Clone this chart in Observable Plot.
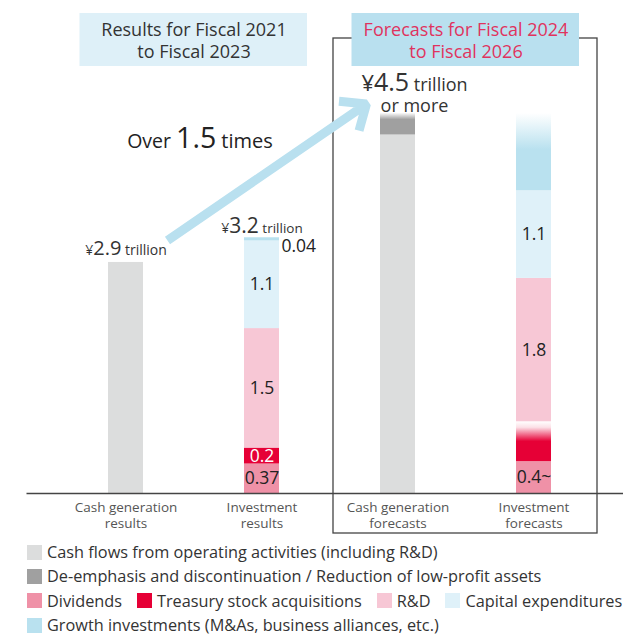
<!DOCTYPE html>
<html><head><meta charset="utf-8">
<script src="https://cdn.jsdelivr.net/npm/d3@7"></script>
<script src="https://cdn.jsdelivr.net/npm/@observablehq/plot@0.6"></script>
<style>
body{margin:0;background:#fff;font-family:"Open Sans", sans-serif;}
#wrap{width:623px;overflow:hidden;}
.legend{padding-left:27px;color:#333;font-size:16.3px;line-height:18px;}
.row{display:flex;align-items:center;height:24.3px;white-space:nowrap;}
.item{display:flex;align-items:center;margin-right:15px;}
.sw{width:15px;height:15px;margin-right:5px;flex:none;}
</style></head><body><div id="wrap"></div>
<script>
// ---- data ----
const bars = ["Cash generation\nresults", "Investment\nresults", "Cash generation\nforecasts", "Investment\nforecasts"];
const components = [
  "Cash flows from operating activities (including R&D)",
  "De-emphasis and discontinuation / Reduction of low-profit assets",
  "Dividends",
  "Treasury stock acquisitions",
  "R&D",
  "Capital expenditures",
  "Growth investments (M&As, business alliances, etc.)"
];
const componentColors = ["#dcdddd", "#a0a0a0", "#ef91a7", "#e60036", "#f7c7d5", "#dff1f9", "#b9e1ef"];
// trillion yen, in component order
const cashGenerationResults   = [2.9, 0, 0, 0, 0, 0, 0];
const investmentResults       = [0, 0, 0.37, 0.2, 1.5, 1.1, 0.04];
const cashGenerationForecasts = [4.5, 0.27, 0, 0, 0, 0, 0];
const investmentForecasts     = [0, 0, 0.4, 0.5, 1.8, 1.1, 0.97];
const segmentLabels = [
  ["", "", "", "", "", "", ""],
  ["", "", "0.37", "0.2", "1.5", "1.1", ""],
  ["", "", "", "", "", "", ""],
  ["", "", "0.4~", "", "1.8", "1.1", ""]
];
const outsideLabel = {bar: 1, comp: 6, text: "0.04"};
const totalLabels = ["¥2.9 trillion", "¥3.2 trillion", "¥4.5 trillion", ""];
const totalSubLabels = ["", "", "or more", ""];
const totalLabelSizes = [[14, 20, 14], [14, 21, 13.5], [22, 25, 18]];
const headerTitles = ["Results for Fiscal 2021\nto Fiscal 2023", "Forecasts for Fiscal 2024\nto Fiscal 2026"];
const headerBars = [[0, 1], [2, 3]];
const headerFills = ["#def0f8", "#b9e0ef"];
const headerTextColors = ["#333", "#e0335e"];
const multipleText = "Over 1.5 times";
// growth arrow from the results cash bar towards the forecast cash bar (annotation, data units)
const growthArrow = {x1: 0.305, y1: 3.176, x2: 1.768, y2: 4.889};
const fadedSegments = [[2, 1], [3, 3], [3, 6]];
const legendRows = [[0], [1], [2, 3, 4, 5], [6]];

// ---- derived ----
const values = [cashGenerationResults, investmentResults, cashGenerationForecasts, investmentForecasts];
const segments = [];
values.forEach((vals, b) => {
  let base = 0;
  vals.forEach((v, c) => {
    if (v > 0) {
      const faded = fadedSegments.some(([fb, fc]) => fb === b && fc === c);
      segments.push({bar: b, comp: c, y1: base, y2: base + v, label: segmentLabels[b][c],
        fill: faded ? `url(#fade-${c})` : componentColors[c]});
      base += v;
    }
  });
});
const totals = values.map((vals, b) => ({bar: b, total: d3.sum(vals), label: totalLabels[b], sub: totalSubLabels[b]}));
const headers = headerTitles.map((t, i) => ({title: t, x1: headerBars[i][0], x2: headerBars[i][1], fill: headerFills[i], color: headerTextColors[i]}));
const outsideSeg = segments.find(s => s.bar === outsideLabel.bar && s.comp === outsideLabel.comp);
const hw = 0.1287; // half bar width in band units

const defs = () => {
  const d = d3.create("svg:defs");
  const stops = {1: [[0, 0.05], [0.3, 1], [1, 1]], 3: [[0, 0.0], [0.15, 0.12], [0.5, 1], [1, 1]], 6: [[0, 0], [0.47, 1], [1, 1]]};
  for (const [c, s] of Object.entries(stops)) {
    const g = d.append("linearGradient").attr("id", `fade-${c}`).attr("x1", 0).attr("y1", 0).attr("x2", 0).attr("y2", 1);
    for (const [o, op] of s) g.append("stop").attr("offset", o).attr("stop-color", componentColors[c]).attr("stop-opacity", op);
  }
  return d.node();
};

const chart = Plot.plot({
  width: 623, height: 540,
  marginLeft: 57.5, marginRight: 21.5, marginTop: 15, marginBottom: 47,
  x: {domain: [-0.5, 3.5], axis: null},
  y: {domain: [0, 6], axis: null},
  color: {type: "identity"},
  style: {fontFamily: "'Open Sans', sans-serif", background: "white", overflow: "visible"},
  marks: [
    defs,
    Plot.rect([headers[1]], {x1: "x1", x2: "x2", insetLeft: -64.5, insetRight: -63.5, insetTop: 23, insetBottom: -40, fill: "none", stroke: "#444", strokeWidth: 1.3}),
    Plot.rect(headers, {x1: "x1", x2: "x2", insetLeft: -46, insetRight: -45.5, insetTop: -2, insetBottom: 427, fill: "fill"}),
    Plot.text(headers, {x: d => (d.x1 + d.x2) / 2, frameAnchor: "top", lineAnchor: "middle", dy: 24.5, text: "title", fill: "color", fontSize: 18, lineHeight: 1.22}),
    Plot.rect(segments, {x1: d => d.bar - hw, x2: d => d.bar + hw, y1: "y1", y2: "y2", fill: "fill"}),
    Plot.ruleY([0], {stroke: "#444", strokeWidth: 1.5, insetLeft: -31, insetRight: -21.5}),
    Plot.arrow([growthArrow], {x1: "x1", y1: "y1", x2: "x2", y2: "y2", stroke: "#b9e0ef", strokeWidth: 9, headLength: 4.6, headAngle: 80, strokeLinecap: "butt", strokeLinejoin: "miter"}),
    Plot.text(segments.filter(d => d.label), {x: "bar", y: d => (d.y1 + d.y2) / 2, text: "label", fill: d => d.comp === 3 ? "white" : "#222", fontSize: 17.5}),
    Plot.text([outsideSeg], {x: "bar", y: d => (d.y1 + d.y2) / 2, text: () => outsideLabel.text, textAnchor: "start", dx: 19.5, dy: 7, fill: "#222", fontSize: 17.5}),
    Plot.text(totals.filter(d => d.bar === 0), {x: "bar", y: "total", text: "label", lineAnchor: "bottom", dy: -7, fill: "#333", fontSize: 20}),
    Plot.text(totals.filter(d => d.bar === 1), {x: "bar", y: "total", text: "label", lineAnchor: "bottom", dy: -5, fill: "#333", fontSize: 20}),
    Plot.text(totals.filter(d => d.bar === 2), {x: "bar", y: "total", text: "label", lineAnchor: "bottom", dx: 16.5, dy: -22, fill: "#333", fontSize: 25}),
    Plot.text(totals.filter(d => d.sub), {x: "bar", y: "total", text: "sub", lineAnchor: "bottom", dx: 16.5, dy: -1, fill: "#333", fontSize: 18}),
    Plot.text([multipleText], {x: 0.5, y: 4.343, dx: 6, lineAnchor: "bottom", fill: "#222", fontSize: 20}),
    Plot.text(bars, {x: (d, i) => i, y: 0, text: d => d, lineAnchor: "top", dy: 7.6, fontSize: 13.5, lineHeight: 1.18, fill: "#555"})
  ]
});

// mixed font sizes inside annotation texts
function rich(el, parts) {
  el.textContent = "";
  for (const [t, size] of parts) {
    const ts = document.createElementNS("http://www.w3.org/2000/svg", "tspan");
    ts.setAttribute("font-size", size);
    ts.textContent = t;
    el.appendChild(ts);
  }
}
d3.select(chart).selectAll("text").each(function() {
  const t = this.textContent;
  const b = totalLabels.indexOf(t);
  if (t && b >= 0) {
    const m = t.match(/^(¥)([\d.]+)( .*)$/);
    const s = totalLabelSizes[b];
    rich(this, [[m[1], s[0]], [m[2], s[1]], [m[3], s[2]]]);
  } else if (t === multipleText) {
    const m = t.match(/^(\D+ )([\d.]+)( .*)$/);
    rich(this, [[m[1], 19.5], [m[2], 28.5], [m[3], 20]]);
  }
});
const wrap = document.getElementById("wrap");
wrap.appendChild(chart);

// legend
const legend = document.createElement("div");
legend.className = "legend";
for (const row of legendRows) {
  const r = document.createElement("div");
  r.className = "row";
  for (const c of row) {
    const it = document.createElement("div");
    it.className = "item";
    const sw = document.createElement("span");
    sw.className = "sw";
    sw.style.background = componentColors[c];
    const tx = document.createElement("span");
    tx.textContent = components[c];
    it.appendChild(sw); it.appendChild(tx);
    r.appendChild(it);
  }
  legend.appendChild(r);
}
wrap.appendChild(legend);
</script></body></html>
